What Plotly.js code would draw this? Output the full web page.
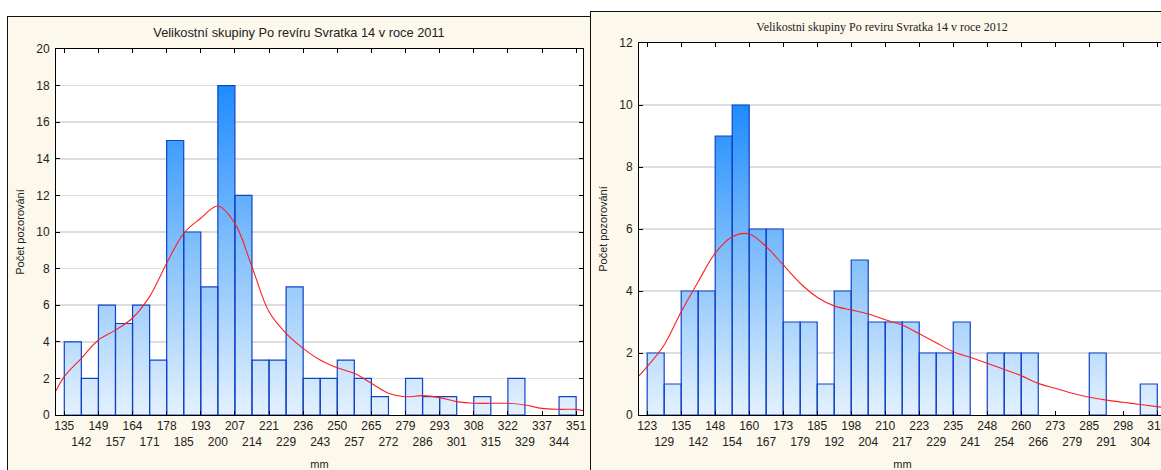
<!DOCTYPE html>
<html>
<head>
<meta charset="utf-8">
<script src="https://cdn.plot.ly/plotly-3.0.1.min.js"></script>
<style>
html,body{margin:0;padding:0;overflow:hidden;background:#ffffff;width:1161px;height:470px;}
.panel{position:absolute;background:#fdf8ec;border-left:1px solid #111;border-top:1px solid #111;}
#p1{left:7px;top:16px;width:582px;height:453px;}
#p2{left:590px;top:11px;width:582px;height:458px;}
</style>
</head>
<body>
<div id="p1" class="panel"></div>
<div id="p2" class="panel"></div>
<script>
// ---- 2011 ----
const title2011 = 'Velikostní skupiny Po revíru Svratka 14 v roce 2011';
const edges2011 = [135, 142.2, 149.4, 156.6, 163.8, 171, 178.2, 185.4, 192.6, 199.8, 207, 214.2, 221.4, 228.6, 235.8, 243, 250.2, 257.4, 264.6, 271.8, 279, 286.2, 293.4, 300.6, 307.8, 315, 322.2, 329.4, 336.6, 343.8, 351];
const labels2011 = ['135','142','149','157','164','171','178','185','193','200','207','214','221','229','236','243','250','257','265','272','279','286','293','301','308','315','322','329','337','344','351'];
const counts2011 = [4, 2, 6, 5, 6, 3, 15, 10, 7, 18, 12, 3, 3, 7, 2, 2, 3, 2, 1, 0, 2, 1, 1, 0, 1, 0, 2, 0, 0, 1];
const curveX2011 = [131.5, 135, 142.2, 149.4, 156.6, 163.8, 171, 178.2, 185.4, 192.6, 199.8, 207, 214.2, 221.4, 228.6, 235.8, 243, 250.2, 257.4, 264.6, 271.8, 279, 286.2, 293.4, 300.6, 307.8, 315, 322.2, 329.4, 336.6, 343.8, 351, 353.9];
const curveY2011 = [1.33, 2.1, 3.1, 4.1, 4.64, 5.3, 6.47, 8.29, 9.93, 10.75, 11.42, 10.47, 8.1, 5.64, 4.46, 3.64, 3.0, 2.58, 2.28, 1.73, 1.19, 1.0, 1.06, 0.95, 0.73, 0.64, 0.64, 0.64, 0.55, 0.36, 0.31, 0.31, 0.24];
const xRange2011 = [131.5, 353.9];
const yMax2011 = 20;

// ---- 2012 ----
const title2012 = 'Velikostni skupiny Po reviru Svratka 14 v roce 2012';
const edges2012 = [123, 129.23, 135.47, 141.7, 147.93, 154.17, 160.4, 166.63, 172.87, 179.1, 185.33, 191.57, 197.8, 204.03, 210.27, 216.5, 222.73, 228.97, 235.2, 241.43, 247.67, 253.9, 260.13, 266.37, 272.6, 278.83, 285.07, 291.3, 297.53, 303.77, 310];
const labels2012 = ['123','129','135','142','148','154','160','167','173','179','185','192','198','204','210','217','223','229','235','241','248','254','260','266','273','279','285','291','298','304','310'];
const counts2012 = [2, 1, 4, 4, 9, 10, 6, 6, 3, 3, 1, 4, 5, 3, 3, 3, 2, 2, 3, 0, 2, 2, 2, 0, 0, 0, 2, 0, 0, 1];
const curveX2012 = [120, 123, 129.23, 135.47, 141.7, 147.93, 154.17, 160.4, 166.63, 172.87, 179.1, 185.33, 191.57, 197.8, 204.03, 210.27, 216.5, 222.73, 228.97, 235.2, 241.43, 247.67, 253.9, 260.13, 266.37, 272.6, 278.83, 285.07, 291.3, 297.53, 303.77, 310, 313.2];
const curveY2012 = [1.26, 1.56, 2.26, 3.33, 4.3, 5.22, 5.75, 5.84, 5.43, 4.84, 4.25, 3.8, 3.52, 3.39, 3.26, 3.07, 2.9, 2.62, 2.33, 2.04, 1.86, 1.67, 1.47, 1.27, 1.02, 0.86, 0.7, 0.57, 0.48, 0.41, 0.34, 0.27, 0.24];
const xRange2012 = [120, 313.2];
const yMax2012 = 12;

const yTitle = 'Počet pozorování';
const xTitle = 'mm';

function build(divId, opts) {
  const edges = opts.edges, counts = opts.counts;
  const centers = counts.map((c, i) => (edges[i] + edges[i + 1]) / 2);
  const widths = counts.map((c, i) => edges[i + 1] - edges[i]);
  const outlineY = counts.map(c => (c > 0 ? c : null));
  const stepY = counts.concat([counts[counts.length - 1]]);
  const maxC = Math.max.apply(null, counts);
  const tickText = opts.labels.map((t, i) => (i % 2 === 1 ? '<br>' + t : t));
  const majorVals = edges.filter((e, i) => i % 2 === 0);

  const traces = [
    // gradient fill of the histogram (main subplot, drawn first)
    {
      type: 'scatter', x: edges, y: stepY, mode: 'lines',
      line: { width: 0, shape: 'hv' }, fill: 'tozeroy',
      fillgradient: { type: 'vertical', start: 0, stop: maxC,
        colorscale: [[0, '#e4f1fe'], [0.5, '#84c0fb'], [1, '#1e8cff']] },
      hoverinfo: 'skip'
    },
    // bar outlines (overlay subplot, drawn on top)
    {
      type: 'bar', x: centers, y: outlineY, width: widths, xaxis: 'x2',
      marker: { color: 'rgba(0,0,0,0)', line: { color: '#1043c8', width: 1.2 } },
      hoverinfo: 'skip'
    },
    {
      type: 'scatter', x: opts.curveX, y: opts.curveY, mode: 'lines', xaxis: 'x2',
      line: { color: '#ff2020', width: 1.1, shape: 'spline', smoothing: 1 },
      hoverinfo: 'skip'
    }
  ];

  const layout = {
    width: opts.w, height: opts.h,
    margin: opts.margin,
    paper_bgcolor: 'rgba(0,0,0,0)', plot_bgcolor: '#ffffff',
    showlegend: false,
    font: { family: 'Liberation Sans, Arial, sans-serif', size: 12, color: '#222' },
    title: {
      text: opts.title, xref: 'container', x: 0.5, xanchor: 'center',
      yref: 'container', y: 1 - opts.titleY / opts.h, yanchor: 'middle',
      font: { family: opts.titleFont, size: opts.titleSize, color: '#222' }
    },
    xaxis: {
      range: opts.xRange, tickmode: 'array', tickvals: edges, ticktext: tickText,
      tickangle: 0,
      ticks: '', showline: true, mirror: true, linecolor: '#000', linewidth: 1,
      showgrid: false, zeroline: false, tickfont: { size: 12, color: '#222' },
      title: { text: xTitle, font: { size: 11, color: '#222' }, standoff: 14 }
    },
    xaxis2: {
      overlaying: 'x', anchor: 'y', range: opts.xRange, tickmode: 'array', tickvals: majorVals,
      ticks: 'inside', ticklen: 4, tickcolor: '#000', mirror: 'ticks',
      showticklabels: false, showgrid: false, zeroline: false, showline: false
    },
    yaxis: {
      range: [0, opts.yMax], tickmode: 'linear', tick0: 0, dtick: 2,
      ticks: 'inside', ticklen: 4, tickcolor: '#000', mirror: 'ticks',
      showline: true, linecolor: '#000', linewidth: 1,
      showgrid: true, gridcolor: '#dddddd', gridwidth: 1.5, zeroline: false,
      tickfont: { size: 12, color: '#222' }, ticklabelstandoff: 3,
      title: { text: yTitle, font: { size: 11, color: '#222' } }
    },
    bargap: 0
  };
  Plotly.newPlot(divId, traces, layout, { staticPlot: true, displayModeBar: false });
}

build('p1', {
  edges: edges2011, labels: labels2011, counts: counts2011,
  curveX: curveX2011, curveY: curveY2011, xRange: xRange2011, yMax: yMax2011,
  title: title2011, titleFont: 'Liberation Sans, Arial, sans-serif', titleSize: 12.8, titleY: 16,
  w: 582, h: 453, margin: { l: 48, r: 7, t: 32, b: 55 }
});
build('p2', {
  edges: edges2012, labels: labels2012, counts: counts2012,
  curveX: curveX2012, curveY: curveY2012, xRange: xRange2012, yMax: yMax2012,
  title: title2012, titleFont: 'Liberation Serif, Times New Roman, serif', titleSize: 12, titleY: 15,
  w: 582, h: 458, margin: { l: 48, r: 7, t: 31, b: 55 }
});
</script>
</body>
</html>
